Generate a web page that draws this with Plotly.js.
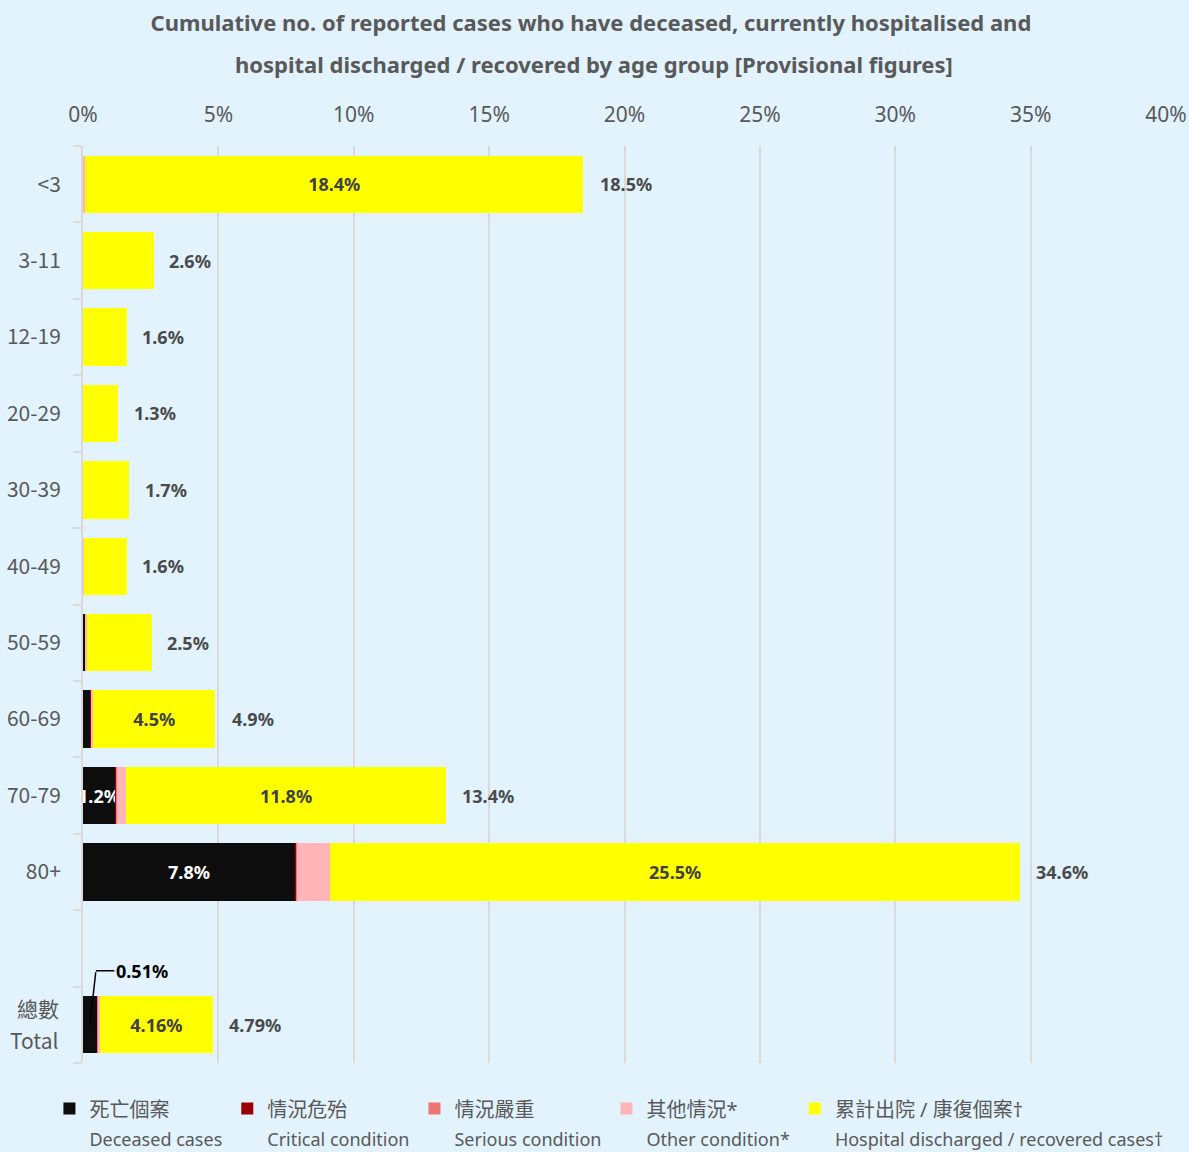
<!DOCTYPE html>
<html>
<head>
<meta charset="utf-8">
<script src="https://cdn.plot.ly/plotly-3.0.1.min.js"></script>
<style>
html,body{margin:0;padding:0;background:#E2F3FD;}
#chart{width:1189px;height:1152px;}
</style>
</head>
<body>
<div id="chart"></div>
<script>
// ---- data (percent of reported cases) ----
const categories = ['<3','3-11','12-19','20-29','30-39','40-49','50-59','60-69','70-79','80+',' ','Total'];
const tickLabels = ['<3','3-11','12-19','20-29','30-39','40-49','50-59','60-69','70-79','80+','',''];
const totalTickLines = ['總數', 'Total'];
const deceased   = [0, 0, 0, 0, 0, 0.01, 0.07, 0.26, 1.18, 7.83, null, 0.51];
const critical   = [0, 0, 0, 0, 0, 0, 0.01, 0.02, 0.03, 0.04, null, 0.02];
const serious    = [0, 0, 0, 0, 0, 0, 0.01, 0.02, 0.03, 0.05, null, 0.02];
const other      = [0.08, 0.01, 0.01, 0.01, 0.01, 0.02, 0.04, 0.08, 0.36, 1.2, null, 0.08];
const discharged = [18.4, 2.6, 1.6, 1.3, 1.7, 1.6, 2.4, 4.5, 11.8, 25.5, null, 4.16];
const deceasedLabels   = ['', '', '', '', '', '', '', '', '1.2%', '7.8%', '', ''];
const dischargedLabels = ['18.4%', '', '', '', '', '', '', '4.5%', '11.8%', '25.5%', '', '4.16%'];
const totals      = [18.5, 2.6, 1.6, 1.3, 1.7, 1.6, 2.5, 4.9, 13.4, 34.6, null, 4.79];
const totalLabels = ['18.5%', '2.6%', '1.6%', '1.3%', '1.7%', '1.6%', '2.5%', '4.9%', '13.4%', '34.6%', '', '4.79%'];
const totalDeceasedLabel = '0.51%';
const xTicks = [0, 5, 10, 15, 20, 25, 30, 35, 40];

const seriesZh = ['死亡個案', '情況危殆', '情況嚴重', '其他情況*', '累計出院 / 康復個案†'];
const seriesEn = ['Deceased cases', 'Critical condition', 'Serious condition', 'Other condition*', 'Hospital discharged / recovered cases†'];
const seriesColors = ['#0D0D0D', '#990000', '#F07474', '#FFB5B8', '#FFFF00'];

const FONT = 'Noto Sans, Noto Sans CJK TC, sans-serif';
const CJK = 'Noto Sans CJK TC, Noto Sans, sans-serif';

function barTrace(vals, idx, labels, textColor) {
  const t = {
    type: 'bar', orientation: 'h',
    x: vals, y: categories,
    name: '<span style="font-size:20px">' + seriesZh[idx] + '</span><br><span style="font-size:18px">' + seriesEn[idx] + '</span>',
    marker: {color: seriesColors[idx], line: {width: 0}},
    hoverinfo: 'skip', cliponaxis: false
  };
  if (labels) {
    t.text = labels;
    t.textposition = 'inside';
    t.insidetextanchor = 'middle';
    t.constraintext = 'none';
    t.textangle = 0;
    t.insidetextfont = {family: FONT, size: 18, color: textColor, weight: 700};
  } else {
    t.textposition = 'none';
  }
  return t;
}

const traces = [
  barTrace(deceased, 0, deceasedLabels, '#FFFFFF'),
  barTrace(critical, 1, null),
  barTrace(serious, 2, null),
  barTrace(other, 3, null),
  barTrace(discharged, 4, dischargedLabels, '#404040')
];

const annotations = [];
totals.forEach((v, i) => {
  if (v === null) return;
  annotations.push({
    x: v, y: categories[i], xref: 'x', yref: 'y',
    text: totalLabels[i], showarrow: false,
    xanchor: 'left', xshift: 14,
    font: {family: FONT, size: 18, color: '#4A4A4A', weight: 700}
  });
});
const tIdx = categories.length - 1;
// two-line tick label for the total row
totalTickLines.forEach((line, k) => {
  annotations.push({
    xref: 'paper', yref: 'y', x: 0, y: categories[tIdx], xshift: -22, yshift: k === 0 ? 17 : -15,
    xanchor: 'right', yanchor: 'middle', showarrow: false, text: line,
    font: {family: CJK, size: 21, color: '#595959'}
  });
});
// leader line for total deceased label
annotations.push({
  x: deceased[tIdx] / 2, y: categories[tIdx], xref: 'x', yref: 'y',
  text: '', showarrow: true, arrowhead: 0, arrowwidth: 1.5, arrowcolor: '#000000',
  ax: 6, ay: -54
});
annotations.push({
  x: deceased[tIdx] / 2, y: categories[tIdx], xref: 'x', yref: 'y',
  xshift: 6, yshift: 54,
  text: totalDeceasedLabel, showarrow: true, arrowhead: 0, arrowwidth: 1.5, arrowcolor: '#000000',
  ax: 46, ay: 0, standoff: 0,
  font: {family: FONT, size: 18, color: '#000000', weight: 700}
});
// second title line
annotations.push({
  xref: 'paper', yref: 'paper', x: 0.472, y: 1, yshift: 82,
  text: 'hospital discharged / recovered by age group [Provisional figures]',
  showarrow: false, xanchor: 'center', yanchor: 'middle',
  font: {family: FONT, size: 22, color: '#595959', weight: 700}
});

const layout = {
  width: 1189, height: 1152,
  margin: {l: 83, r: 23, t: 146, b: 89, pad: 0, autoexpand: false},
  paper_bgcolor: '#E2F3FD', plot_bgcolor: '#E2F3FD',
  title: {
    text: 'Cumulative no. of reported cases who have deceased, currently hospitalised and',
    x: 0.497, xanchor: 'center', y: 1 - 23/1152, yanchor: 'middle',
    font: {family: FONT, size: 22, color: '#595959', weight: 700}
  },
  barmode: 'stack', bargap: 0.25,
  showlegend: true,
  xaxis: {
    side: 'top', range: [0, 40], autorange: false, tickvals: xTicks, ticktext: xTicks.map(v => v + '%'),
    showgrid: true, gridcolor: '#D9D9D9', gridwidth: 2, zeroline: false,
    ticks: '', showline: false, ticklabelstandoff: 19,
    tickfont: {family: FONT, size: 21, color: '#595959'}, fixedrange: true
  },
  yaxis: {
    type: 'category', categoryorder: 'array', categoryarray: categories,
    tickmode: 'array', tickvals: categories, ticktext: tickLabels,
    autorange: false, range: [categories.length - 0.5, -0.5],
    tickson: 'boundaries', ticks: 'outside', ticklen: 8,
    tickcolor: '#D9D9D9', tickwidth: 2, showline: true, linecolor: '#D9D9D9', linewidth: 2,
    showgrid: false, zeroline: false, ticklabelstandoff: 16,
    tickfont: {family: CJK, size: 21, color: '#595959'}, fixedrange: true
  },
  legend: {
    orientation: 'h', x: -0.031, xanchor: 'left', y: -0.027, yanchor: 'top',
    font: {family: FONT, size: 22, color: '#595959'}, valign: 'top',
    bgcolor: 'rgba(0,0,0,0)', traceorder: 'normal', itemclick: false
  },
  annotations: annotations
};

Plotly.newPlot('chart', traces, layout, {displayModeBar: false, staticPlot: true});
</script>
</body>
</html>
